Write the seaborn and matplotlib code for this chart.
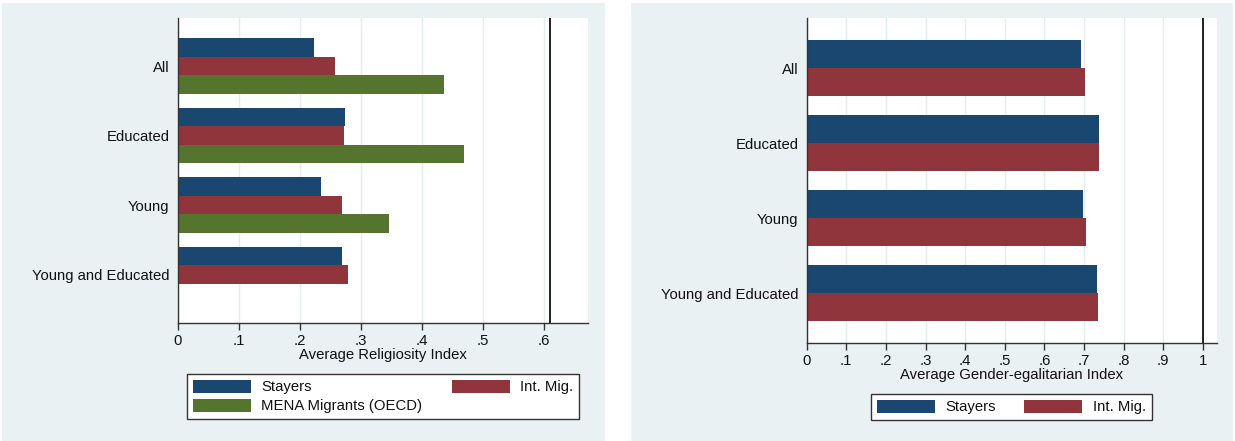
import matplotlib
matplotlib.use("Agg")
import matplotlib.pyplot as plt
from matplotlib.patches import Rectangle, Patch
import numpy as np
import pandas as pd
import seaborn as sns

# ---------------- data ----------------
groups = ["All", "Educated", "Young", "Young and Educated"]

relig_series = ["Stayers", "Int. Mig.", "MENA Migrants (OECD)"]
relig_stayers = [0.224, 0.274, 0.235, 0.270]
relig_intmig = [0.258, 0.273, 0.269, 0.279]
relig_mena = [0.437, 0.469, 0.347, None]
relig_ref = 0.611
relig_ticks = [0, 0.1, 0.2, 0.3, 0.4, 0.5, 0.6]
relig_ticklabels = ["0", ".1", ".2", ".3", ".4", ".5", ".6"]

gender_series = ["Stayers", "Int. Mig."]
gender_stayers = [0.693, 0.738, 0.698, 0.734]
gender_intmig = [0.702, 0.737, 0.704, 0.735]
gender_ref = 1.0
gender_ticks = [0, 0.1, 0.2, 0.3, 0.4, 0.5, 0.6, 0.7, 0.8, 0.9, 1.0]
gender_ticklabels = ["0", ".1", ".2", ".3", ".4", ".5", ".6", ".7", ".8", ".9", "1"]

colors = {"Stayers": "#1a476f", "Int. Mig.": "#90353b", "MENA Migrants (OECD)": "#55752f"}


def to_long(series_names, series_values):
    rows = []
    for name, vals in zip(series_names, series_values):
        for g, v in zip(groups, vals):
            if v is not None:
                rows.append({"group": g, "series": name, "value": v})
    return pd.DataFrame(rows)


df_relig = to_long(relig_series, [relig_stayers, relig_intmig, relig_mena])
df_gender = to_long(gender_series, [gender_stayers, gender_intmig])

# ---------------- figure ----------------
plt.rcParams["font.family"] = ["Liberation Sans", "DejaVu Sans"]
W, H = 1235, 441
fig = plt.figure(figsize=(W / 100, H / 100), dpi=100)
fig.patch.set_facecolor("white")

bg = "#eaf1f3"
fig.add_artist(Rectangle((2 / W, 0), 603 / W, 1 - 3 / H, transform=fig.transFigure,
                         facecolor=bg, edgecolor="none", zorder=-10))
fig.add_artist(Rectangle((631 / W, 0), 602 / W, 1 - 3 / H, transform=fig.transFigure,
                         facecolor=bg, edgecolor="none", zorder=-10))

txt_color = "#111111"
fs = 10.7


def px_axes(left, top, right, bottom):
    return fig.add_axes([left / W, 1 - bottom / H, (right - left) / W, (bottom - top) / H])


def style(ax, ticks, ticklabels, xlim, ylim, ref, xlabel):
    ax.set_facecolor("white")
    ax.set_xlim(*xlim)
    ax.set_ylim(*ylim)
    ax.set_xticks(ticks)
    ax.set_xticklabels(ticklabels)
    ax.set_axisbelow(True)
    ax.grid(axis="x", color="#e4ecee", linewidth=1.0)
    ax.grid(axis="y", visible=False)
    ax.axvline(ref, color="#202020", linewidth=1.4, zorder=5)
    for s in ["top", "right"]:
        ax.spines[s].set_visible(False)
    for s in ["left", "bottom"]:
        ax.spines[s].set_color("#333333")
        ax.spines[s].set_linewidth(1.0)
    ax.tick_params(axis="x", length=5, width=1, color="#333333", labelsize=fs,
                   labelcolor=txt_color, pad=3)
    ax.tick_params(axis="y", length=0, labelsize=fs, labelcolor=txt_color, pad=6)
    ax.set_ylabel("")
    ax.set_xlabel(xlabel, fontsize=fs, color=txt_color, labelpad=0)


# left panel
ax1 = px_axes(177.7, 18, 588, 322.7)
sns.barplot(data=df_relig, x="value", y="group", hue="series", order=groups,
            hue_order=relig_series, palette=colors, orient="h", width=0.8,
            errorbar=None, saturation=1, linewidth=0, legend=False, ax=ax1)
style(ax1, relig_ticks, relig_ticklabels, (0, 0.6725), (3.69, -0.69), relig_ref,
      "Average Religiosity Index")

# right panel
ax2 = px_axes(806.7, 18.3, 1217, 343)
sns.barplot(data=df_gender, x="value", y="group", hue="series", order=groups,
            hue_order=gender_series, palette=colors, orient="h", width=0.75,
            errorbar=None, saturation=1, linewidth=0, legend=False, ax=ax2)
style(ax2, gender_ticks, gender_ticklabels, (0, 1.036), (3.667, -0.667), gender_ref,
      "Average Gender-egalitarian Index")

# legends
def make_legend(order, ncol, center, colsp):
    handles = [Patch(facecolor=colors[n], edgecolor="none", label=n) for n in order]
    leg = fig.legend(handles=handles, labels=order, ncol=ncol, loc="center",
                     bbox_to_anchor=(center[0] / W, 1 - center[1] / H),
                     bbox_transform=fig.transFigure, frameon=True, fancybox=False,
                     edgecolor="#333333", facecolor="white", framealpha=1,
                     fontsize=fs, handlelength=3.9, handleheight=0.95,
                     handletextpad=0.7, columnspacing=colsp, borderpad=0.4,
                     labelspacing=0.3, borderaxespad=0)
    leg.get_frame().set_linewidth(1.0)
    for t in leg.get_texts():
        t.set_color(txt_color)
    return leg

make_legend(["Stayers", "MENA Migrants (OECD)", "Int. Mig."], 2, (383, 396.5), 2.0)
make_legend(["Stayers", "Int. Mig."], 2, (1011.5, 407), 1.9)

fig.savefig("out.png", dpi=100, facecolor="white")
